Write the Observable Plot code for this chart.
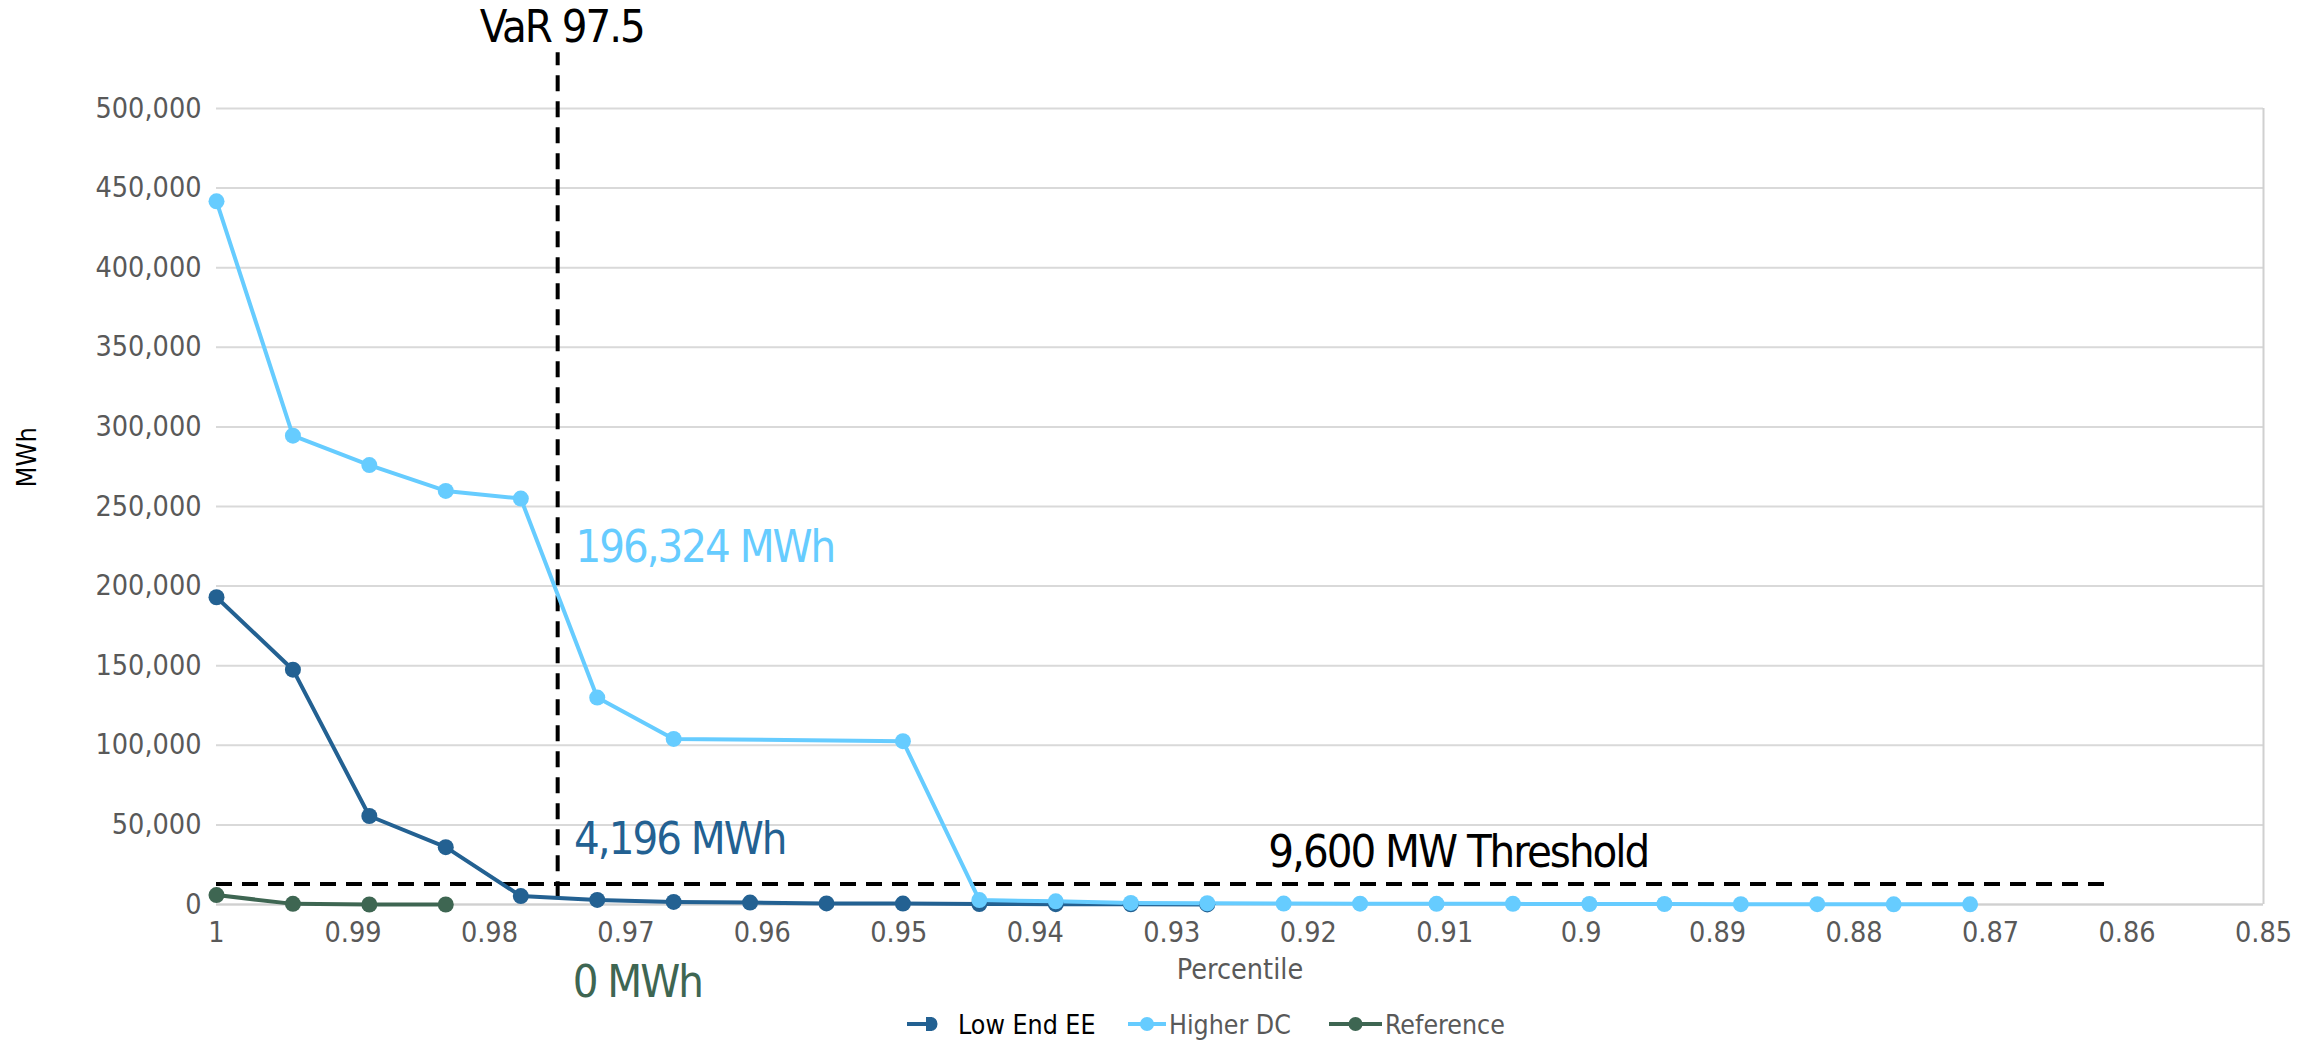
<!DOCTYPE html>
<html>
<head>
<meta charset="utf-8">
<script src="https://cdn.jsdelivr.net/npm/d3@7"></script>
<script src="https://cdn.jsdelivr.net/npm/@observablehq/plot@0.6"></script>
<style>
  html, body { margin: 0; padding: 0; background: #ffffff; }
  body { width: 2316px; height: 1043px; overflow: hidden; position: relative;
         font-family: "DejaVu Sans Condensed", "DejaVu Sans", sans-serif; }
  #legend { position: absolute; left: 0; top: 1005px; width: 2316px; height: 38px;
            font-size: 26.5px; color: #595959; white-space: nowrap; }
  #legend .item { position: absolute; top: 0; height: 38px; display: flex; align-items: center; }
  #legend svg { display: block; }
</style>
</head>
<body>
<div id="chart"></div>
<div id="legend"></div>
<script>
// ---- data ----
const seriesNames = ["Low End EE", "Higher DC", "Reference"];
const seriesColors = ["#236192", "#66CCFF", "#3E6652"];

const pctLowEndEE = [1.0000, 0.9944, 0.9888, 0.9832, 0.9777, 0.9721, 0.9665, 0.9609, 0.9553, 0.9497, 0.9441, 0.9385, 0.9330, 0.9274];
const lowEndEE    = [193000, 147500, 55600, 36000, 5300, 2900, 1600, 1200, 700, 600, 300, 200, 100, 50];

const pctHigherDC = [1.0000, 0.9944, 0.9888, 0.9832, 0.9777, 0.9721, 0.9665, 0.9497, 0.9441, 0.9385, 0.9330, 0.9274, 0.9218, 0.9162, 0.9106, 0.9050, 0.8994, 0.8939, 0.8883, 0.8827, 0.8771, 0.8715];
const higherDC    = [441700, 294500, 276000, 259800, 255000, 130000, 104000, 102600, 2800, 2000, 1000, 800, 600, 500, 400, 400, 300, 300, 200, 200, 100, 100];

const pctReference = [1.0000, 0.9944, 0.9888, 0.9832];
const reference    = [5900, 400, 0, 0];

const xTicks = [1, 0.99, 0.98, 0.97, 0.96, 0.95, 0.94, 0.93, 0.92, 0.91, 0.9, 0.89, 0.88, 0.87, 0.86, 0.85];
const yTicks = [0, 50000, 100000, 150000, 200000, 250000, 300000, 350000, 400000, 450000, 500000];

const varLevel = 0.975;
const varLow = 4196;      // where the VaR marker meets the lowest curve
const varTop = 535000;    // top end of the VaR marker
const thresholdValue = 12800;
const thresholdEnd = 0.8616;

const valueLabels = [
  {label: "196,324 MWh", x: 0.9737, y: 224000, color: "#66CCFF"},
  {label: "4,196 MWh",   x: 0.9738, y: 40800,  color: "#236192"},
  {label: "0 MWh",       x: 0.9739, y: -49000, color: "#3E6652"}
];
const lineLabels = [
  {label: "VaR 97.5",           x: 0.9747, y: 551000},
  {label: "9,600 MW Threshold", x: 0.909,  y: 32700}
];

// ---- build tables ----
const rows = [];
[[pctLowEndEE, lowEndEE], [pctHigherDC, higherDC], [pctReference, reference]].forEach(([xs, ys], i) => {
  xs.forEach((p, j) => rows.push({series: seriesNames[i], pct: p, value: ys[j]}));
});

const fontFamily = '"DejaVu Sans Condensed", "DejaVu Sans", sans-serif';
const annotationSize = 45;

const chart = Plot.plot({
  width: 2316,
  height: 1000,
  marginLeft: 216,
  marginRight: 53,
  marginTop: 108,
  marginBottom: 96,
  style: {fontFamily, background: "#ffffff", overflow: "visible"},
  x: {domain: [1, 0.85]},
  y: {domain: [0, 500000]},
  color: {domain: seriesNames, range: seriesColors},
  marks: [
    Plot.gridY(yTicks, {stroke: "#D9D9D9", strokeOpacity: 1, strokeWidth: 2}),
    Plot.ruleX([0.85], {stroke: "#D0D0D0", strokeWidth: 2}),
    Plot.ruleY([0], {stroke: "#D0D0D0", strokeWidth: 2}),
    Plot.axisY(yTicks, {tickSize: 0, tickPadding: 15, tickFormat: d3.format(","), fontSize: 28.5, fill: "#595959", label: null}),
    Plot.axisX(xTicks, {tickSize: 0, tickPadding: 17, tickFormat: d => String(d), fontSize: 28.5, fill: "#595959", label: null}),
    Plot.text(["Percentile"], {frameAnchor: "bottom", dy: 74, fontSize: 28.5, fill: "#595959"}),
    Plot.text(["MWh"], {frameAnchor: "left", dx: -189, dy: -19, rotate: -90, fontSize: 27, fill: "#000000"}),
    Plot.ruleY([thresholdValue], {x1: 1, x2: thresholdEnd, stroke: "#000", strokeWidth: 4, strokeDasharray: "16 10"}),
    Plot.ruleX([varLevel], {y1: varLow, y2: varTop, stroke: "#000", strokeWidth: 4, strokeDasharray: "16 10"}),
    Plot.line(rows, {x: "pct", y: "value", z: "series", stroke: "series", strokeWidth: 4}),
    Plot.dot(rows, {x: "pct", y: "value", fill: "series", r: 8, stroke: null}),
    Plot.text(valueLabels, {x: "x", y: "y", text: "label", fill: "color", textAnchor: "start", fontSize: annotationSize, lineAnchor: "middle"}),
    Plot.text(lineLabels, {x: "x", y: "y", text: "label", fill: "#000000", textAnchor: "middle", fontSize: annotationSize, lineAnchor: "middle"})
  ]
});
// tighten the annotation lettering to mimic the narrow face of the original
d3.select(chart).selectAll(`g[font-size="${annotationSize}"]`).style("letter-spacing", "-2px");
document.getElementById("chart").appendChild(chart);

// ---- legend ----
const legend = document.getElementById("legend");
const legendLeft = [907, 1128, 1329];
const legendSwatchWidth = [31, 38, 53];
seriesNames.forEach((name, i) => {
  const item = document.createElement("div");
  item.className = "item";
  item.style.left = legendLeft[i] + "px";
  const w = legendSwatchWidth[i];
  const sw = d3.create("svg").attr("width", w).attr("height", 20);
  if (i === 0) {
    sw.append("line").attr("x1", 0).attr("x2", w - 6).attr("y1", 10).attr("y2", 10).attr("stroke", seriesColors[i]).attr("stroke-width", 4);
    sw.append("rect").attr("x", w - 12).attr("y", 3).attr("width", 6).attr("height", 14).attr("fill", seriesColors[i]);
    sw.append("path").attr("d", `M${w - 7},3 A6.5,7 0 0,1 ${w - 7},17 Z`).attr("fill", seriesColors[i]);
  } else {
    sw.append("line").attr("x1", 0).attr("x2", w).attr("y1", 10).attr("y2", 10).attr("stroke", seriesColors[i]).attr("stroke-width", 4);
    sw.append("circle").attr("cx", w / 2).attr("cy", 10).attr("r", 7).attr("fill", seriesColors[i]);
  }
  item.appendChild(sw.node());
  const label = document.createElement("span");
  label.textContent = name;
  label.style.marginLeft = i === 0 ? "20px" : "3px";
  if (i === 0) label.style.color = "#000000";
  item.appendChild(label);
  legend.appendChild(item);
});
</script>
</body>
</html>
